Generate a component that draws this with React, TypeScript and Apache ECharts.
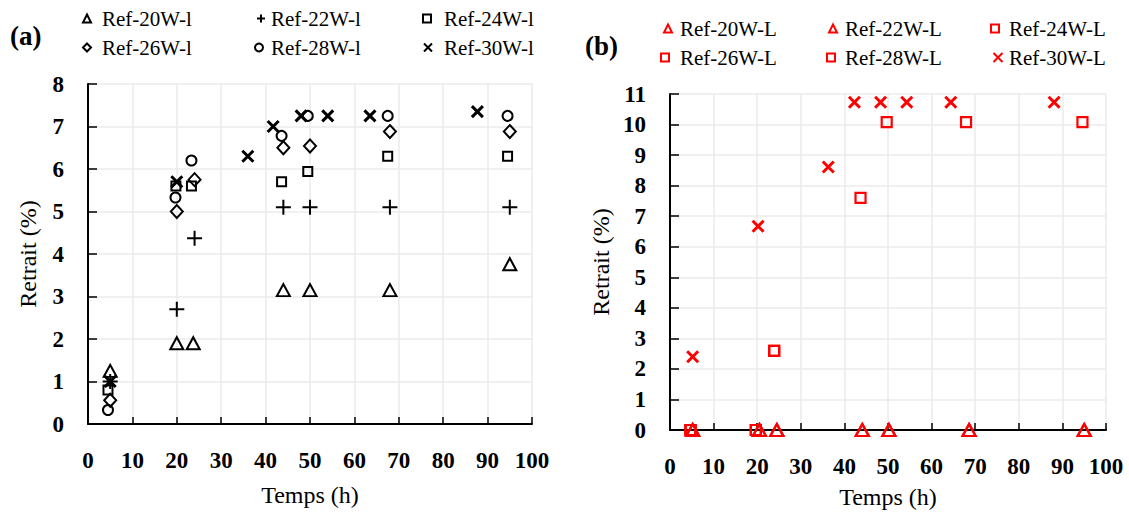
import React, { useEffect, useRef } from "react";
import * as echarts from "echarts";

// ---------- Data (a) : Temps (h), Retrait (%) ----------
const ref20Wl: [number, number][] = [[5, 1.25], [20, 1.9], [23.7, 1.9], [44, 3.15], [50, 3.15], [68, 3.15], [95, 3.76]];
const ref22Wl: [number, number][] = [[5, 1.0], [20, 2.7], [24, 4.37], [44, 5.1], [50, 5.1], [68, 5.1], [95, 5.1]];
const ref24Wl: [number, number][] = [[4.5, 0.8], [19.8, 5.6], [23.3, 5.6], [43.6, 5.7], [49.5, 5.94], [67.5, 6.3], [94.5, 6.3]];
const ref26Wl: [number, number][] = [[5, 0.56], [20, 5.0], [24, 5.75], [44, 6.5], [50, 6.54], [68, 6.88], [95, 6.88]];
const ref28Wl: [number, number][] = [[4.5, 0.33], [19.7, 5.33], [23.3, 6.2], [43.6, 6.78], [49.5, 7.25], [67.5, 7.25], [94.5, 7.25]];
const ref30Wl: [number, number][] = [[5, 1.0], [20, 5.7], [36, 6.3], [41.7, 7.0], [48, 7.25], [54, 7.25], [63.5, 7.25], [87.7, 7.35]];

// ---------- Data (b) ----------
const ref20WL: [number, number][] = [[5.2, 0], [20.5, 0], [24.5, 0], [44.1, 0], [50.2, 0], [68.6, 0], [95, 0]];
const ref22WL: [number, number][] = [[5.2, 0], [20.5, 0], [24.5, 0], [44.1, 0], [50.2, 0], [68.6, 0], [95, 0]];
const ref24WL: [number, number][] = [[4.7, 0], [19.7, 0]];
const ref26WL: [number, number][] = [[4.7, 0], [19.7, 0], [23.9, 2.59]];
const ref28WL: [number, number][] = [[4.7, 0], [19.7, 0], [23.9, 2.59], [43.7, 7.6], [49.7, 10.08], [67.9, 10.08], [94.6, 10.08]];
const ref30WL: [number, number][] = [[5.2, 2.4], [20.2, 6.67], [36.3, 8.61], [42.3, 10.73], [48.3, 10.73], [54.3, 10.73], [64.4, 10.73], [88.1, 10.73]];

const FONT = "Liberation Serif, DejaVu Serif, serif";
const PLUS = "path://M0,5L10,5M5,0L5,10";
const CROSS = "path://M0,0L10,10M10,0L0,10";
const RED = "#ff0000";

function scatter(name: string, data: [number, number][], idx: number, symbol: string, size: number | number[], color: string, bw: number) {
  return {
    type: "scatter",
    name,
    data,
    xAxisIndex: idx,
    yAxisIndex: idx,
    symbol,
    symbolSize: size,
    clip: false,
    z: 5,
    itemStyle: { color: "rgba(0,0,0,0)", borderColor: color, borderWidth: bw, opacity: 1 },
    emphasis: { disabled: true },
  };
}

function legendItem(name: string, iconCx: number, rowCy: number, textX: number, size = 8) {
  return {
    data: [name],
    left: iconCx - size / 2,
    top: rowCy - 11,
    padding: 0,
    itemWidth: size,
    itemHeight: size,
    selectedMode: false,
    textStyle: { fontFamily: FONT, fontSize: 21, color: "#000", padding: [0, 0, 0, Math.max(0, textX - (iconCx + size / 2 + 5))] },
  };
}

function xAxis(idx: number, gap: number) {
  return {
    type: "value",
    gridIndex: idx,
    min: 0,
    max: 100,
    interval: 10,
    name: "Temps (h)",
    nameLocation: "middle",
    nameGap: gap,
    nameTextStyle: { fontFamily: FONT, fontSize: 24, color: "#000" },
    axisLine: { show: true, onZero: false, lineStyle: { color: "#000", width: 2 } },
    axisTick: { show: true, inside: true, length: 7, lineStyle: { color: "#000", width: 1.5 } },
    axisLabel: { fontFamily: FONT, fontSize: 23, fontWeight: "bold", color: "#000", margin: 25 },
    splitLine: { show: true, lineStyle: { color: "#ebebeb", width: 1.5 } },
  };
}

function yAxis(idx: number, max: number, gap: number) {
  return {
    type: "value",
    gridIndex: idx,
    min: 0,
    max,
    interval: 1,
    name: "Retrait (%)",
    nameLocation: "middle",
    nameGap: gap,
    nameRotate: 90,
    nameTextStyle: { fontFamily: FONT, fontSize: 24, color: "#000" },
    axisLine: { show: true, onZero: false, lineStyle: { color: "#000", width: 2 } },
    axisTick: { show: true, inside: true, length: 9, lineStyle: { color: "#000", width: 1.5 } },
    axisLabel: { fontFamily: FONT, fontSize: 23, fontWeight: "bold", color: "#000", margin: 24 },
    splitLine: { show: true, lineStyle: { color: "#ebebeb", width: 1.5 } },
  };
}

export default function App() {
  const ref = useRef<HTMLDivElement>(null);
  useEffect(() => {
    document.body.style.margin = "0";
    if (!ref.current) return;
    const chart = echarts.init(ref.current, null, { renderer: "svg" });
    chart.setOption({
      animation: false,
      backgroundColor: "#fff",
      textStyle: { fontFamily: FONT },
      grid: [
        { left: 88, top: 84, width: 444, height: 340 },
        { left: 670, top: 94, width: 436, height: 336 },
      ],
      xAxis: [xAxis(0, 59), xAxis(1, 55)],
      yAxis: [yAxis(0, 8, 48), yAxis(1, 11, 57)],
      legend: [
        legendItem("Ref-20W-l", 86, 19, 101),
        legendItem("Ref-22W-l", 260, 19, 270),
        legendItem("Ref-24W-l", 426, 19, 443),
        legendItem("Ref-26W-l", 86, 48, 101),
        legendItem("Ref-28W-l", 258, 48, 270),
        legendItem("Ref-30W-l", 427, 48, 443),
        legendItem("Ref-20W-L", 667, 29, 679),
        legendItem("Ref-22W-L", 832, 29, 844),
        legendItem("Ref-24W-L", 994, 29, 1008),
        legendItem("Ref-26W-L", 664, 58, 679),
        legendItem("Ref-28W-L", 830, 58, 844),
        legendItem("Ref-30W-L", 997, 58, 1008, 9),
      ],
      graphic: [
        { type: "text", left: 10, top: 22, style: { text: "(a)", fontFamily: FONT, fontSize: 27, fontWeight: "bold", fill: "#000" } },
        { type: "text", left: 585, top: 32, style: { text: "(b)", fontFamily: FONT, fontSize: 27, fontWeight: "bold", fill: "#000" } },
      ],
      series: [
        scatter("Ref-20W-l", ref20Wl, 0, "triangle", [13, 12], "#000", 2),
        scatter("Ref-22W-l", ref22Wl, 0, PLUS, 15, "#000", 2),
        scatter("Ref-24W-l", ref24Wl, 0, "rect", 9, "#000", 2),
        scatter("Ref-26W-l", ref26Wl, 0, "diamond", [12, 13], "#000", 2),
        scatter("Ref-28W-l", ref28Wl, 0, "circle", 10, "#000", 2),
        scatter("Ref-30W-l", ref30Wl, 0, CROSS, 11, "#000", 3),
        scatter("Ref-20W-L", ref20WL, 1, "triangle", [13, 12], RED, 2.2),
        scatter("Ref-22W-L", ref22WL, 1, "triangle", [13, 12], RED, 2.2),
        scatter("Ref-24W-L", ref24WL, 1, "rect", 10, RED, 2.2),
        scatter("Ref-26W-L", ref26WL, 1, "rect", 10, RED, 2.2),
        scatter("Ref-28W-L", ref28WL, 1, "rect", 10, RED, 2.2),
        scatter("Ref-30W-L", ref30WL, 1, CROSS, 11, RED, 3),
      ],
    });
    return () => chart.dispose();
  }, []);
  return <div ref={ref} style={{ position: "absolute", left: 0, top: 0, width: 1129, height: 515 }} />;
}
